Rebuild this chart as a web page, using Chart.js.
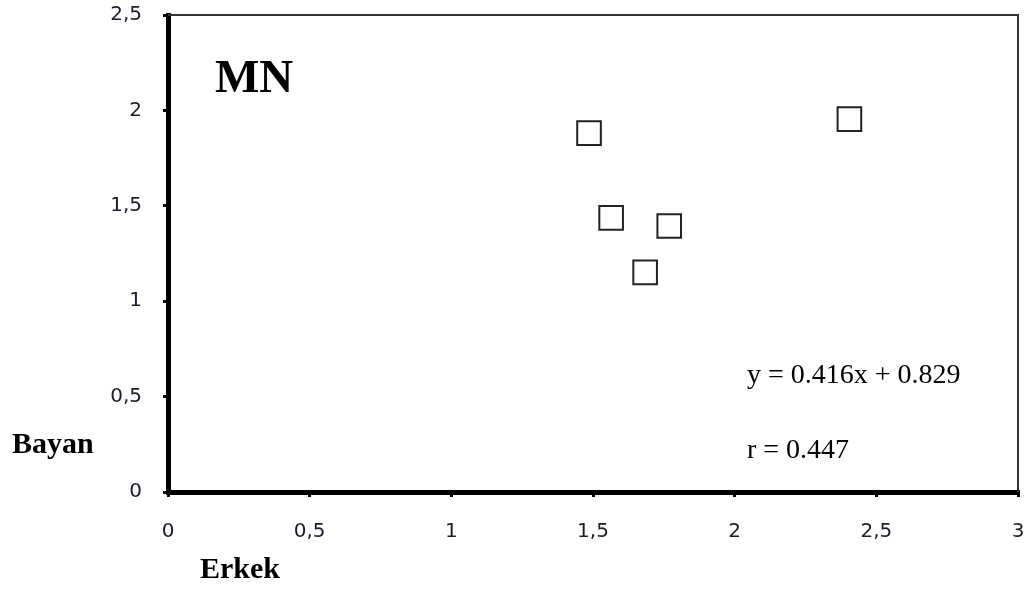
<!DOCTYPE html>
<html>
<head>
<meta charset="utf-8">
<script src="https://cdn.jsdelivr.net/npm/chart.js@4/dist/chart.umd.min.js"></script>
<style>
    html, body { margin: 0; padding: 0; background: #fff; }
    #wrap { width: 1032px; height: 592px; }
</style>
</head>
<body>
<div id="wrap"><canvas id="mnChart" width="1032" height="592"></canvas></div>
<script>
// values
const erkek = [1.486, 1.564, 1.684, 1.769, 2.405];
const bayan = [1.881, 1.437, 1.151, 1.394, 1.954];
const xTickLabels = ['0', '0,5', '1', '1,5', '2', '2,5', '3'];
const yTickLabels = ['0', '0,5', '1', '1,5', '2', '2,5'];
const chartTitle = 'MN';
const equationText = 'y = 0.416x + 0.829';
const rText = 'r = 0.447';
const xTitle = 'Erkek';
const yTitle = 'Bayan';

document.addEventListener('DOMContentLoaded', function () {
    const points = erkek.map(function (x, i) {
        return { x: x, y: bayan[i] };
    });

    // thin frame on top and right, plus the texts
    const extras = {
        id: 'extras',
        afterDraw: function (chart) {
            const ctx = chart.ctx;
            const a = chart.chartArea;
            ctx.save();
            ctx.strokeStyle = '#333';
            ctx.lineWidth = 2;
            ctx.beginPath();
            ctx.moveTo(a.left, a.top);
            ctx.lineTo(a.right, a.top);
            ctx.lineTo(a.right, a.bottom);
            ctx.stroke();

            ctx.fillStyle = '#000';
            ctx.textBaseline = 'alphabetic';
            ctx.textAlign = 'left';
            ctx.font = 'bold 47px "Liberation Serif", serif';
            ctx.fillText(chartTitle, a.left + 47, a.top + 77);

            ctx.font = '28px "Liberation Serif", serif';
            ctx.fillText(equationText, a.left + 579, a.top + 368);
            ctx.fillText(rText, a.left + 579, a.top + 443);

            ctx.font = 'bold 30px "Liberation Serif", serif';
            ctx.fillText(yTitle, 12, a.bottom - 39);
            ctx.fillText(xTitle, a.left + 32, a.bottom + 86);
            ctx.restore();
        },
    };

    new Chart(document.getElementById('mnChart'), {
        type: 'scatter',
        data: {
            datasets: [
                {
                    data: points,
                    pointStyle: 'rect',
                    pointRadius: 16.7,
                    pointHoverRadius: 16.7,
                    backgroundColor: 'rgba(255, 255, 255, 0)',
                    borderColor: '#222',
                    borderWidth: 2,
                },
            ],
        },
        options: {
            responsive: false,
            animation: false,
            devicePixelRatio: 1,
            layout: { autoPadding: false, padding: { top: 15, right: 14, left: 0, bottom: 0 } },
            plugins: {
                legend: { display: false },
                tooltip: { enabled: false },
            },
            scales: {
                x: {
                    type: 'linear',
                    min: 0,
                    max: 3,
                    afterFit: function (scale) {
                        scale.height = 100;
                        scale.paddingLeft = 0;
                        scale.paddingRight = 0;
                    },
                    border: { color: '#000', width: 5 },
                    grid: { drawOnChartArea: false, drawTicks: true, tickLength: 5, color: '#000', lineWidth: 3 },
                    ticks: {
                        stepSize: 0.5,
                        padding: 23,
                        maxRotation: 0,
                        color: '#1c1c2c',
                        font: { family: 'DejaVu Sans', size: 20 },
                        callback: function (v) { return xTickLabels[Math.round(v / 0.5)]; },
                    },
                },
                y: {
                    type: 'linear',
                    min: 0,
                    max: 2.5,
                    afterFit: function (scale) {
                        scale.width = 168;
                        scale.paddingTop = 0;
                        scale.paddingBottom = 0;
                    },
                    border: { color: '#000', width: 5 },
                    grid: { drawOnChartArea: false, drawTicks: true, tickLength: 5, color: '#000', lineWidth: 3 },
                    ticks: {
                        stepSize: 0.5,
                        padding: 21,
                        color: '#1c1c2c',
                        font: { family: 'DejaVu Sans', size: 20 },
                        callback: function (v) { return yTickLabels[Math.round(v / 0.5)]; },
                    },
                },
            },
        },
        plugins: [extras],
    });
});
</script>
</body>
</html>
